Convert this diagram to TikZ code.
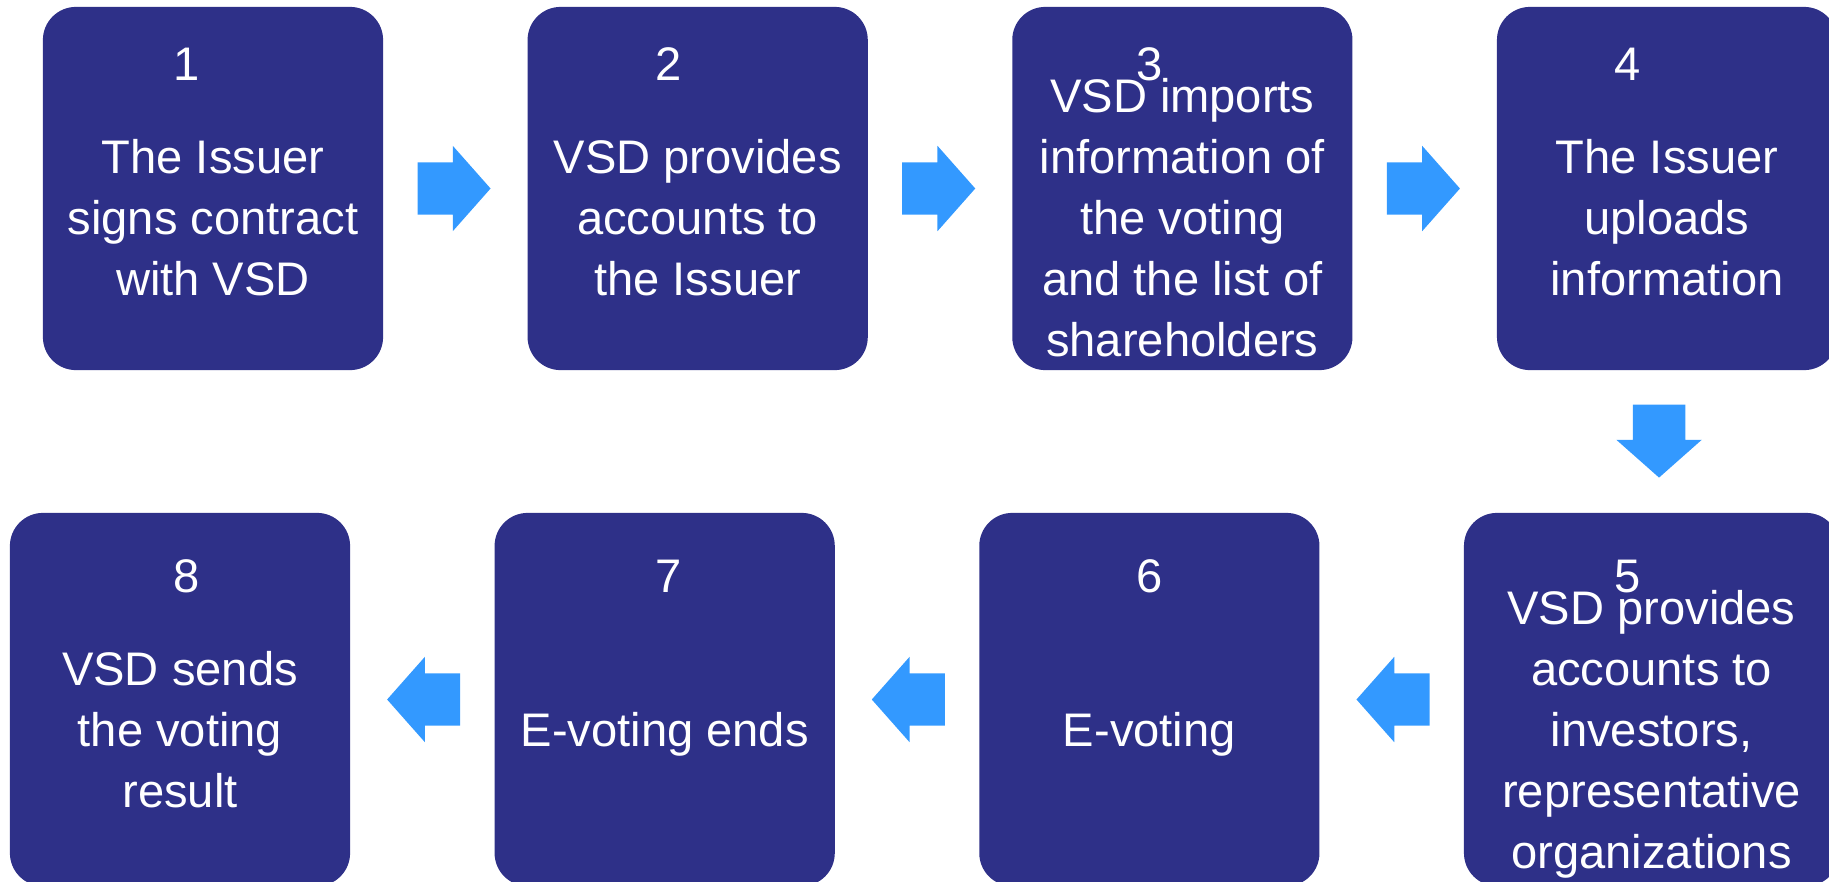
\documentclass[tikz,border=0pt]{standalone}
\usepackage{fontspec}
\setmainfont{Liberation Sans}
\usetikzlibrary{shapes,arrows,calc,positioning}
\definecolor{stepblue}{RGB}{46,48,136}
\definecolor{arrowblue}{RGB}{51,153,255}

\begin{document}
\begin{tikzpicture}[x=0.01cm,y=-0.01cm,
  box/.style={rectangle,rounded corners=0.33cm,fill=stepblue,minimum width=3.4cm,minimum height=3.63cm,inner sep=0},
  num/.style={text=white,anchor=base,inner sep=0,font=\fontsize{13.4}{17.4}\selectfont},
  desc/.style={text=white,align=center,inner sep=0,font=\fontsize{13.4}{17.4}\selectfont},
  blk/.style={single arrow,fill=arrowblue,minimum height=0.73cm,inner xsep=0,inner ysep=0.255cm,
    single arrow head extend=0.165cm,single arrow tip angle=97,anchor=tail}]
  \useasboundingbox (0,0) rectangle (1829,881);
  \clip (0,0) rectangle (1829,881);

  \node[box] (b1) at (213,188.5) {};
  \node[box, right = 1.43cm of b1] (b2) {};
  \node[box, right = 1.43cm of b2] (b3) {};
  \node[box, right = 1.43cm of b3] (b4) {};
  \node[box, minimum height=3.73cm] (b8) at (180,699.5) {};
  \node[box, minimum height=3.73cm, right = 1.43cm of b8] (b7) {};
  \node[box, minimum height=3.73cm, right = 1.43cm of b7] (b6) {};
  \node[box, minimum height=3.73cm, minimum width=3.75cm, right = 1.43cm of b6] (b5) {};

  \node[num] (n1) at (187,80) {1};
  \node[num] (n2) at (669,80) {2};
  \node[num] (n3) at (1150,80) {3};
  \node[num] (n4) at (1628,80) {4};
  \node[num] (n5) at (1628,592) {5};
  \node[num] (n6) at (1150,592) {6};
  \node[num] (n7) at (669,592) {7};
  \node[num] (n8) at (187,592) {8};

  \node[desc] (t1) at ($(b1.north)+(0,216)$) {\strut The Issuer\\signs contract\\with VSD\strut};
  \node[desc] (t2) at ($(b2.north)+(0,216)$) {\strut VSD provides\\accounts to\\the Issuer\strut};
  \node[desc] (t3) at ($(b3.north)+(0,216)$) {\strut VSD imports\\information of\\the voting\\and the list of\\shareholders\strut};
  \node[desc] (t4) at ($(b4.north)+(0,216)$) {\strut The Issuer\\uploads\\information\strut};
  \node[desc] (t5) at ($(b5.north)+(0,222)$) {\strut VSD provides\\accounts to\\investors,\\representative\\organizations\strut};
  \node[desc] (t6) at ($(b6.north)+(0,222)$) {\strut E-voting\strut};
  \node[desc] (t7) at ($(b7.north)+(0,222)$) {\strut E-voting ends\strut};
  \node[desc] (t8) at ($(b8.north)+(0,222)$) {\strut VSD sends\\the voting\\result\strut};

  \node[blk] (a1) at ([xshift=0.33cm]b1.east) {};
  \node[blk] (a2) at ([xshift=0.33cm]b2.east) {};
  \node[blk] (a3) at ([xshift=0.33cm]b3.east) {};
  \node[blk, rotate=-90] (a4) at ([xshift=-0.08cm,yshift=-0.33cm]b4.south) {};
  \node[blk, rotate=180] (a5) at ([xshift=-0.33cm]b5.west) {};
  \node[blk, rotate=180] (a6) at ([xshift=-0.33cm]b6.west) {};
  \node[blk, rotate=180] (a7) at ([xshift=-0.33cm]b7.west) {};

\end{tikzpicture}
\end{document}
